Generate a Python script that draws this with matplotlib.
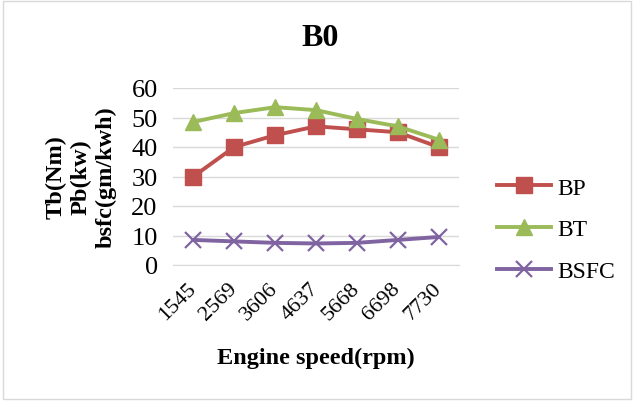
import numpy as np
import matplotlib.pyplot as plt
from matplotlib.patches import Rectangle

speed = ["1545", "2569", "3606", "4637", "5668", "6698", "7730"]
bp = [30, 40, 44, 47, 46, 45, 40]
bt = [48.5, 51.5, 53.5, 52.5, 49.5, 47, 42.5]
bsfc = [8.5, 8, 7.5, 7.3, 7.5, 8.5, 9.5]

plt.rcParams['font.family'] = ['Liberation Serif', 'DejaVu Serif']

fig = plt.figure(figsize=(6.34, 4.02), dpi=100)
fig.patches.append(Rectangle((0.004, 0.004), 0.992, 0.992, transform=fig.transFigure,
                             fill=False, ec='#d9d9d9', lw=1))
ax = fig.add_axes([173 / 634, 1 - 266 / 402, 286 / 634, 177 / 402])

x = np.arange(len(speed))
ax.plot(x, bp, c="#C0504D", lw=2.8, marker='s', ms=12, label="BP")
ax.plot(x, bt, c="#9BBB59", lw=2.8, marker='^', ms=12, label="BT")
ax.plot(x, bsfc, c="#8064A2", lw=2.8, marker='x', ms=12, mew=1.6, label="BSFC")

ax.set_xlim(-0.5, len(speed) - 0.5)
ax.set_ylim(0, 60)
ax.set_yticks(range(0, 61, 10))
ax.grid(axis='y', color='#d9d9d9', lw=1)
ax.set_axisbelow(True)
for s in ['top', 'right', 'left']:
    ax.spines[s].set_visible(False)
ax.spines['bottom'].set_color('#d9d9d9')
ax.tick_params(length=0)
ax.tick_params(axis='y', labelsize=19, pad=11)
ax.set_xticks(x)
ax.set_xticklabels(speed, rotation=45, ha='right', va='center',
                   rotation_mode='anchor', fontsize=16)
ax.tick_params(axis='x', pad=15)

fig.text(0.505, 1 - 39 / 402, "B0", fontsize=23, fontweight='bold', ha='center', va='center')
ax.set_xlabel("Engine speed(rpm)", fontsize=17.5, fontweight='bold')
ax.xaxis.set_label_coords(0.5, -0.46)
ax.set_ylabel("Tb(Nm)\nPb(kw)\nbsfc(gm/kwh)", fontsize=17.5, fontweight='bold',
              linespacing=1.25)
ax.yaxis.set_label_coords(-0.197, 0.5)

fig.legend(loc='center left', bbox_to_anchor=(497 / 634, 1 - 230.5 / 402), frameon=False,
           fontsize=17, handlelength=2.3, handletextpad=0.25, labelspacing=0.85,
           borderpad=0, borderaxespad=0)

fig.savefig("out.png", dpi=100)
